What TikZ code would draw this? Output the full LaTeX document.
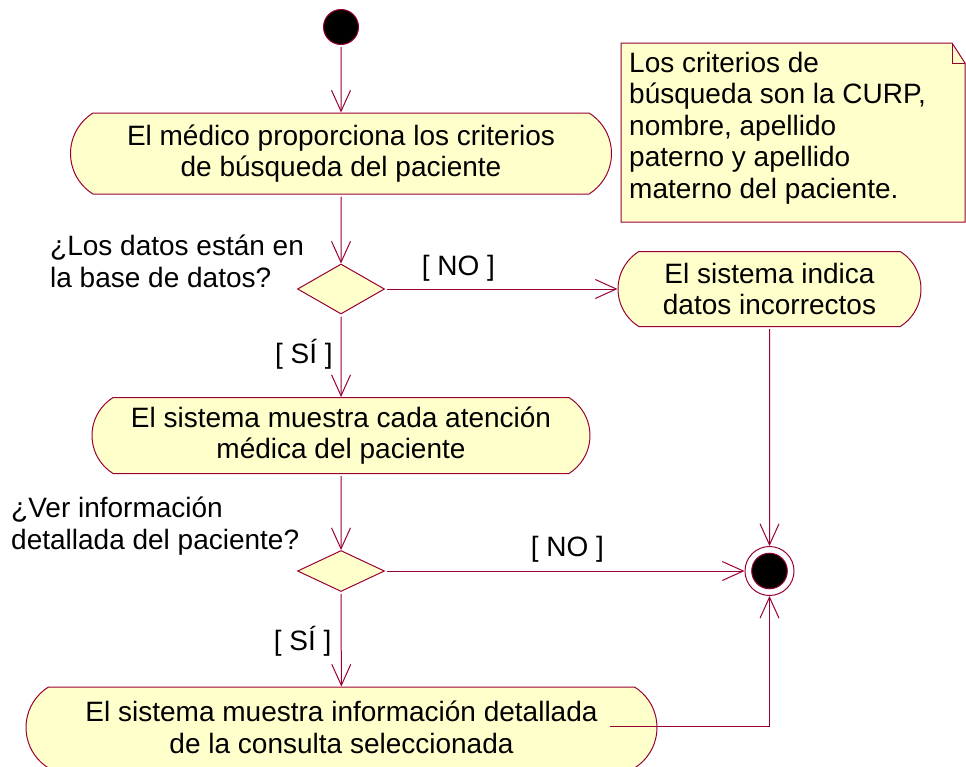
\documentclass[tikz,border=0pt]{standalone}
\usepackage{fontspec}
\setmainfont{Liberation Sans}
\usepackage{xcolor}
\definecolor{roseLine}{HTML}{990033}
\definecolor{roseFill}{HTML}{FFFFCC}
\usepackage{tikz}
\usetikzlibrary{arrows.meta,shapes.geometric,shapes.misc}

\begin{document}
\begin{tikzpicture}[x=1pt, y=-1pt,
    >={Straight Barb[length=21pt,width=19pt]},
    every node/.style={font=\fontsize{28}{31.5}\selectfont},
    activity/.style={rounded rectangle, rounded rectangle arc length=116, draw=roseLine, fill=roseFill, line width=1pt, align=center, inner sep=0pt},
    decision/.style={diamond, draw=roseLine, fill=roseFill, line width=1pt, minimum width=87pt, inner sep=0pt},
    initial/.style={circle, fill=black, draw=roseLine, line width=1pt, minimum size=35pt, inner sep=0pt},
    final/.style={circle, draw=roseLine, line width=1pt, minimum size=49pt, inner sep=0pt,
      path picture={\filldraw[fill=black, draw=roseLine] (path picture bounding box.center) circle[radius=17.8pt];}},
    flow/.style={->, draw=roseLine, line width=1pt, shorten <=2pt},
    guard/.style={anchor=base west, inner sep=0pt},
    question/.style={anchor=north west, align=left, inner sep=0pt}]
  \useasboundingbox (0,0) rectangle (966,766);

  % ---- note ----
  \draw[draw=roseLine, fill=roseFill, line width=1pt] (621,43) -- (952,43) -- (965,63) -- (965,222) -- (621,222) -- cycle;
  \draw[roseLine, line width=1pt] (952,43) |- (965,63);   % folded corner
  \node[question] (nota) at (629,52) {Los criterios de\\búsqueda son la CURP,\\nombre, apellido\\paterno y apellido\\materno del paciente.};

  % ---- states ----
  \node[initial] (inicio) at (341,27) {};
  \node[activity, minimum width=541pt, minimum height=81pt] (criterios) at (341,153.5) {El médico proporciona los criterios\\de búsqueda del paciente};
  \node[decision, minimum height=50pt] (enBase) at (341,289) {};
  \node[activity, minimum width=303pt, minimum height=75pt] (incorrectos) at (769.5,289) {El sistema indica\\datos incorrectos};
  \node[activity, minimum width=498pt, minimum height=76pt] (atenciones) at (341,435.5) {El sistema muestra cada atención\\médica del paciente};
  \node[decision, minimum height=41pt] (verInfo) at (341,571) {};
  \node[activity, minimum width=631pt, minimum height=81pt] (detalle) at (341.5,727.5) {El sistema muestra información detallada\\de la consulta seleccionada};
  \node[final] (fin) at (769.5,571) {};

  % ---- questions and guards ----
  \node[question] (pregunta1) at (50,235) {¿Los datos están en\\la base de datos?};
  \node[question] (pregunta2) at (11,497) {¿Ver información\\detallada del paciente?};
  \node[guard] (no1) at (421.7,275) {[ NO ]};
  \node[guard] (si1) at (275,363) {[ SÍ ]};
  \node[guard] (no2) at (530.7,556.7) {[ NO ]};
  \node[guard] (si2) at (273.6,650) {[ SÍ ]};

  % ---- transitions ----
  \draw[flow] (inicio) -- (criterios);
  \draw[flow] (criterios) -- (enBase);
  \draw[flow] (enBase) -- (incorrectos);
  \draw[flow] (enBase) -- (atenciones);
  \draw[flow] (atenciones) -- (verInfo);
  \draw[flow] (verInfo) -- (fin);
  \draw[flow] (verInfo) -- (detalle);
  \draw[flow] (incorrectos) -- (fin);
  \coordinate (salida) at (610,726);
  \draw[flow, shorten <=0pt] (salida) -| (fin);
\end{tikzpicture}
\end{document}
